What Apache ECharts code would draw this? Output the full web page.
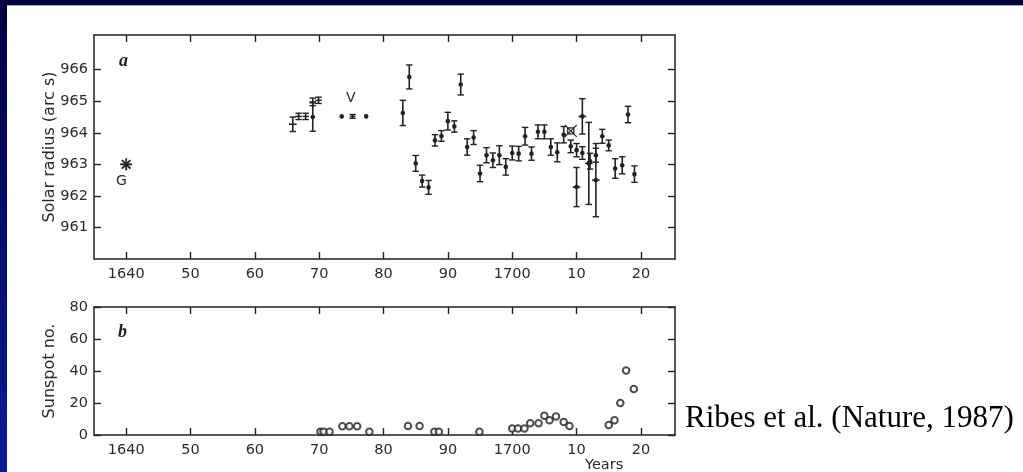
<!DOCTYPE html>
<html>
<head>
<meta charset="utf-8">
<script src="https://cdn.jsdelivr.net/npm/echarts@6/dist/echarts.min.js"></script>
<style>
html,body{margin:0;padding:0;background:#fff;}
#chart{width:1023px;height:472px;}
</style>
</head>
<body>
<div id="chart"></div>
<script>
// ---- Panel a: solar radius (arc s) ----
// mark codes: 0 = dot with error bar, 1 = cross (no dot), 2 = dot + horizontal bar, 3 = asterisk, 4 = boxed X
const radiusYears  = [1640, 1665.9, 1666.8, 1667.9, 1669.0, 1669.0, 1669.9, 1673.5, 1675.2, 1677.3,
  1683, 1684, 1685, 1686, 1687, 1688, 1689, 1690, 1691, 1692, 1693, 1694, 1695, 1696, 1697, 1698, 1699,
  1700, 1701, 1702, 1703, 1704, 1705, 1706, 1707, 1708, 1709.1, 1709.1, 1710, 1710, 1710.9, 1710.9,
  1711.9, 1712.1, 1713, 1713, 1714, 1715, 1716, 1717.1, 1718, 1719];
const radiusValues = [963.0, 964.27, 964.52, 964.52, 964.5, 964.98, 965.03, 964.52, 964.52, 964.52,
  964.63, 965.77, 963.03, 962.47, 962.27, 963.76, 963.9, 964.37, 964.2, 965.53, 963.55, 963.85, 962.71, 963.29, 963.13, 963.29, 962.92,
  963.36, 963.34, 963.89, 963.34, 964.03, 964.03, 963.55, 963.38, 963.94, 964.06, 963.57, 963.45, 962.28, 964.52, 963.36,
  963.03, 963.1, 963.29, 962.5, 963.89, 963.6, 962.87, 962.97, 964.58, 962.69];
const radiusErrors = [0, 0.23, 0.1, 0.1, 0.45, 0.12, 0.1, 0, 0.06, 0,
  0.4, 0.38, 0.25, 0.19, 0.22, 0.18, 0.17, 0.28, 0.18, 0.33, 0.26, 0.22, 0.26, 0.24, 0.23, 0.3, 0.26,
  0.22, 0.23, 0.28, 0.21, 0.22, 0.22, 0.26, 0.3, 0.26, 0, 0.2, 0.21, 0.62, 0.56, 0.2,
  1.3, 0.25, 0.22, 1.16, 0.22, 0.17, 0.31, 0.27, 0.26, 0.26];
const radiusYearErrors = [0, 0.6, 0.5, 0.5, 0, 0.5, 0.5, 0, 0.4, 0,
  0, 0, 0, 0, 0, 0, 0, 0, 0, 0, 0, 0, 0, 0, 0, 0, 0,
  0, 0, 0, 0, 0, 0, 0, 0, 0, 0, 0, 0, 0.6, 0.6, 0,
  0.6, 0, 0, 0.6, 0, 0, 0, 0, 0, 0];
const radiusMarks = [3, 1, 1, 1, 0, 1, 1, 0, 1, 0,
  0, 0, 0, 0, 0, 0, 0, 0, 0, 0, 0, 0, 0, 0, 0, 0, 0,
  0, 0, 0, 0, 0, 0, 0, 0, 0, 4, 0, 0, 2, 2, 0,
  2, 0, 0, 2, 0, 0, 0, 0, 0, 0];

// ---- Panel b: sunspot number ----
const sunspotYears  = [1670.2, 1670.7, 1671.6, 1673.6, 1674.7, 1675.9, 1677.8, 1683.8, 1685.6, 1687.9, 1688.6, 1694.9,
  1700, 1700.9, 1701.9, 1702.8, 1704.1, 1705, 1705.8, 1706.8, 1708, 1708.9, 1715, 1715.9, 1716.8, 1717.7, 1718.9];
const sunspotValues = [2, 2, 2, 5.4, 5.4, 5.4, 2, 5.6, 5.6, 2, 2, 2,
  4, 4, 4, 7.3, 7.3, 12, 9.2, 11.6, 8.2, 5.6, 6.3, 9.2, 20, 40.3, 28.8];

// ---- ticks ----
const yearTicks = [1640, 1650, 1660, 1670, 1680, 1690, 1700, 1710, 1720];
const radiusTicks = [961, 962, 963, 964, 965, 966];
const sunspotTicks = [0, 20, 40, 60, 80];

const ink = '#222';
const labelFont = 'DejaVu Sans';

const radiusData = radiusYears.map((y, i) => [y, radiusValues[i], radiusErrors[i], radiusYearErrors[i], radiusMarks[i]]);
const sunspotData = sunspotYears.map((y, i) => [y, sunspotValues[i]]);

function yearLabel(v) {
  return (v === 1640 || v === 1700) ? String(v) : String(v % 100);
}

function xAxisDef(gridIndex, position, showLabels) {
  return {
    type: 'value', gridIndex, position, min: 1635, max: 1725.3,
    axisLine: { show: true, onZero: false, lineStyle: { color: ink, width: 1.5 } },
    axisTick: { show: true, inside: true, length: 7, customValues: yearTicks, lineStyle: { color: ink, width: 1.4 } },
    axisLabel: { show: showLabels, customValues: yearTicks, formatter: yearLabel, margin: 8,
      color: '#2a2a2a', fontFamily: labelFont, fontSize: 14.5 },
    splitLine: { show: false }
  };
}
function yAxisDef(gridIndex, position, min, max, ticks, showLabels, name) {
  return {
    type: 'value', gridIndex, position, min, max,
    name: name || '', nameLocation: 'middle', nameGap: 36, nameRotate: 90, nameMoveOverlap: false,
    nameTextStyle: { color: '#2a2a2a', fontFamily: labelFont, fontSize: 16 },
    axisLine: { show: true, onZero: false, lineStyle: { color: ink, width: 1.5 } },
    axisTick: { show: true, inside: true, length: 7, customValues: ticks, lineStyle: { color: ink, width: 1.4 } },
    axisLabel: { show: showLabels, customValues: ticks, margin: 6,
      color: '#2a2a2a', fontFamily: labelFont, fontSize: 14.5 },
    splitLine: { show: false }
  };
}

function renderRadius(params, api) {
  const x = api.value(0), y = api.value(1), e = api.value(2), xe = api.value(3), m = api.value(4);
  const c = api.coord([x, y]);
  const kids = [];
  const L = (x1, y1, x2, y2, w) => kids.push({ type: 'line', shape: { x1, y1, x2, y2 }, style: { stroke: ink, lineWidth: w || 1.5 } });
  if (e > 0) {
    const t = api.coord([x, y + e]), b = api.coord([x, y - e]);
    L(c[0], t[1], c[0], b[1], 1.6);
    L(c[0] - 3.2, t[1], c[0] + 3.2, t[1], 1.4);
    L(c[0] - 3.2, b[1], c[0] + 3.2, b[1], 1.4);
  }
  if (xe > 0) {
    const l = api.coord([x - xe, y]), r = api.coord([x + xe, y]);
    L(l[0], c[1], r[0], c[1], 1.5);
  }
  if (m === 0 || m === 2) {
    kids.push({ type: 'circle', shape: { cx: c[0], cy: c[1], r: 2.3 }, style: { fill: ink } });
  }
  if (m === 3) {
    const s = 6, d = 4.3;
    L(c[0], c[1] - s, c[0], c[1] + s, 1.9);
    L(c[0] - s, c[1], c[0] + s, c[1], 1.9);
    L(c[0] - d, c[1] - d, c[0] + d, c[1] + d, 1.9);
    L(c[0] - d, c[1] + d, c[0] + d, c[1] - d, 1.9);
  }
  if (m === 4) {
    kids.push({ type: 'rect', shape: { x: c[0] - 3, y: c[1] - 3, width: 6, height: 6 }, style: { stroke: ink, lineWidth: 1.3, fill: '#fff' } });
    L(c[0] - 6, c[1] - 6, c[0] + 6, c[1] + 6, 1.1);
    L(c[0] - 6, c[1] + 6, c[0] + 6, c[1] - 6, 1.1);
  }
  return { type: 'group', children: kids };
}

const chart = echarts.init(document.getElementById('chart'), null, { renderer: 'canvas' });
chart.setOption({
  backgroundColor: '#ffffff',
  animation: false,
  grid: [
    { left: 94, top: 35, width: 581, height: 224 },
    { left: 94, top: 307, width: 581, height: 128 }
  ],
  xAxis: [
    xAxisDef(0, 'bottom', true),
    xAxisDef(0, 'top', false),
    xAxisDef(1, 'bottom', true),
    xAxisDef(1, 'top', false)
  ],
  yAxis: [
    yAxisDef(0, 'left', 960, 967.1, radiusTicks, true, 'Solar radius (arc s)'),
    yAxisDef(0, 'right', 960, 967.1, radiusTicks, false),
    yAxisDef(1, 'left', 0, 80, sunspotTicks, true, 'Sunspot no.'),
    yAxisDef(1, 'right', 0, 80, sunspotTicks, false)
  ],
  series: [
    {
      type: 'custom', xAxisIndex: 0, yAxisIndex: 0, data: radiusData,
      renderItem: renderRadius, clip: false, z: 5
    },
    {
      type: 'scatter', xAxisIndex: 2, yAxisIndex: 2, data: sunspotData,
      symbol: 'emptyCircle', symbolSize: 6.5, z: 5,
      itemStyle: { color: ink, borderColor: ink, borderWidth: 1.4 }
    }
  ],
  graphic: [
    { type: 'rect', left: 0, top: 0, shape: { width: 1023, height: 5 }, style: { fill: '#000040' }, z: 100 },
    { type: 'rect', left: 0, top: 5, shape: { width: 1023, height: 1 }, style: { fill: '#a4a4c8' }, z: 100 },
    { type: 'rect', left: 0, top: 0, shape: { width: 7, height: 472 }, z: 101,
      style: { fill: new echarts.graphic.LinearGradient(0, 0, 0, 1, [
        { offset: 0, color: '#000040' }, { offset: 1, color: '#0b1c90' }]) } },
    { type: 'text', left: 119, top: 52, style: { text: 'a', font: 'italic bold 18px "Liberation Serif"', fill: ink } },
    { type: 'text', left: 118, top: 323, style: { text: 'b', font: 'italic bold 18px "Liberation Serif"', fill: ink } },
    { type: 'text', left: 116, top: 174, style: { text: 'G', font: '14px "DejaVu Sans"', fill: '#2a2a2a' } },
    { type: 'text', left: 346, top: 91, style: { text: 'V', font: '14px "DejaVu Sans"', fill: '#2a2a2a' } },
    { type: 'text', left: 585, top: 458, style: { text: 'Years', font: '14.5px "DejaVu Sans"', fill: '#2a2a2a' } },
    { type: 'text', left: 685, top: 403, style: { text: 'Ribes et al. (Nature, 1987)', font: '31px "Liberation Serif"', fill: '#000' } }
  ]
});
</script>
</body>
</html>
